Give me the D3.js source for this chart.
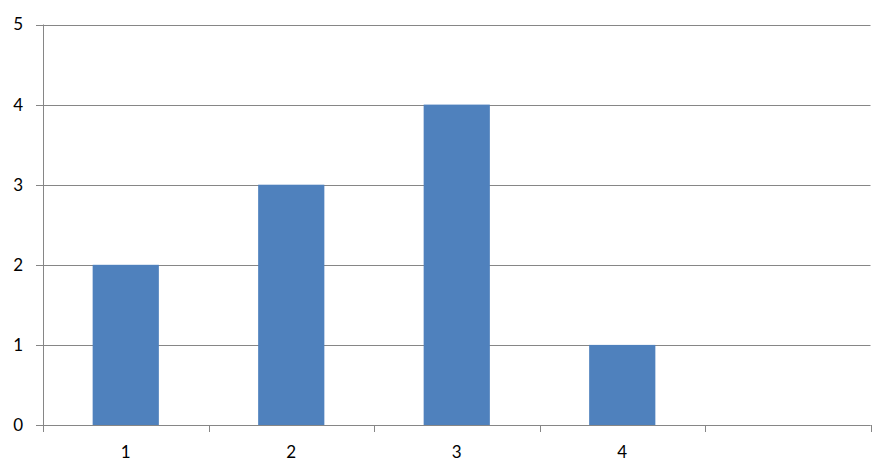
<!DOCTYPE html>
<html><head><meta charset="utf-8">
<script src="https://cdn.jsdelivr.net/npm/d3@7"></script>
<style>body{margin:0;background:#fff}svg{display:block}text{font-family:Lato,"Open Sans",sans-serif;font-size:17px;fill:#000}</style>
</head><body><svg id="c" width="894" height="469"></svg>
<script>
const categories = ["1","2","3","4",""];
const values = [2,3,4,1,null];
const yTicks = [0,1,2,3,4,5];

(function(){
const svg = d3.select("#c");
const mLeft = 43, mRight = 870.5, mTop = 24.5, mBottom = 425;
const x = d3.scaleBand().domain(categories.map((c,i)=>i)).range([mLeft,mRight]).paddingInner(0.6).paddingOuter(0.3);
const xs = d3.scaleBand().domain(categories.map((c,i)=>i)).range([mLeft,mRight]);
const y = d3.scaleLinear().domain([0,5]).range([mBottom,mTop]);
const grid = "#868686";

svg.append("g").selectAll("line").data(yTicks).join("line")
  .attr("x1", mLeft-7).attr("x2", mRight).attr("y1", d=>Math.round(y(d))+0.5).attr("y2", d=>Math.round(y(d))+0.5)
  .attr("stroke", grid).attr("stroke-width",1);

svg.append("g").selectAll("rect").data(values.map((v,i)=>({v,i})).filter(d=>d.v!=null)).join("rect")
  .attr("x", d=>x(d.i)).attr("width", x.bandwidth())
  .attr("y", d=>y(d.v)).attr("height", d=>y(0)-y(d.v)).attr("fill","#4F81BD");

svg.append("line").attr("x1",mLeft+0.5).attr("x2",mLeft+0.5).attr("y1",mTop).attr("y2",mBottom+7).attr("stroke",grid);
svg.append("line").attr("x1",mLeft).attr("x2",mRight).attr("y1",Math.round(y(0))+0.5).attr("y2",Math.round(y(0))+0.5).attr("stroke",grid);
const bounds = categories.map((c,i)=>xs(i)).concat([mRight]);
svg.append("g").selectAll("line").data(bounds).join("line")
  .attr("x1", d=>Math.round(d)+0.5).attr("x2", d=>Math.round(d)+0.5).attr("y1", mBottom).attr("y2", mBottom+7).attr("stroke", grid);

svg.append("g").selectAll("text").data(yTicks).join("text")
  .attr("x", 23).attr("y", d=>y(d)).attr("dy","0.35em").attr("text-anchor","end").text(d=>d);
svg.append("g").selectAll("text").data(categories).join("text")
  .attr("x", (d,i)=>xs(i)+xs.bandwidth()/2).attr("y", 458).attr("text-anchor","middle").text(d=>d);
})();
</script></body></html>
